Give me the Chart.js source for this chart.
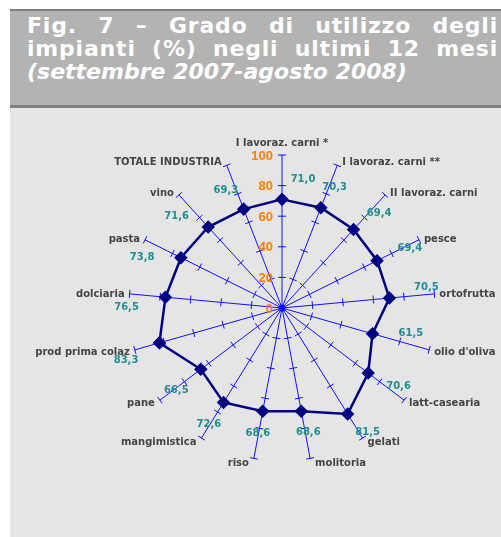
<!DOCTYPE html>
<html>
<head>
<meta charset="utf-8">
<script src="https://cdn.jsdelivr.net/npm/chart.js@4.4.0/dist/chart.umd.min.js"></script>
<style>
  body { margin: 0; background: #fff; width: 501px; height: 537px; overflow: hidden; position: relative; font-family: "DejaVu Sans", sans-serif; }
  #head { position: absolute; left: 10px; top: 9px; width: 491px; height: 94px; background: #b3b3b3;
          border-top: 2px solid #808080; border-bottom: 3px solid #7f7f7f; }
  #head div { color: #fff; font-weight: bold; font-size: 22px; line-height: 23px; margin: 0 3px 0 17px;
              letter-spacing: 0.8px; text-align: justify; text-align-last: justify; }
  #head div.sub { font-style: italic; letter-spacing: 0; text-align-last: left; }
  #head .first { margin-top: 3px; }
  #panel { position: absolute; left: 10px; top: 108px; width: 491px; height: 429px; background: #e5e5e5; }
  canvas { position: absolute; left: 0; top: 0; }
</style>
</head>
<body>
<div id="head">
  <div class="first">Fig. 7 – Grado di utilizzo degli</div>
  <div>impianti (%) negli ultimi 12 mesi</div>
  <div class="sub">(settembre 2007-agosto 2008)</div>
</div>
<div id="panel"></div>
<canvas id="chart" width="501" height="537"></canvas>
<script>
const categories = ['I lavoraz. carni *', 'I lavoraz. carni **', 'II lavoraz. carni', 'pesce', 'ortofrutta',
  "olio d'oliva", 'latt-casearia', 'gelati', 'molitoria', 'riso', 'mangimistica', 'pane',
  'prod prima colaz', 'dolciaria', 'pasta', 'vino', 'TOTALE INDUSTRIA'];
const utilizzo = [71.0, 70.3, 69.4, 69.4, 70.5, 61.5, 70.6, 81.5, 68.6, 68.6, 72.6, 66.5, 83.3, 76.5, 73.8, 71.6, 69.3];
const tickValues = [0, 20, 40, 60, 80, 100];
const tickLabels = ['0', '20', '40', '60', '80', '100'];

const spokeColor = '#1010ff';

// tick marks across the spokes, orange axis numbers, category and value labels
const spokeDecor = {
  id: 'spokeDecor',
  beforeDatasetsDraw(chart) {
    const r = chart.scales.r;
    const ctx = chart.ctx;
    ctx.save();
    ctx.strokeStyle = spokeColor;
    ctx.lineWidth = 1;
    categories.forEach((c, i) => {
      const a = r.getIndexAngle(i) - Math.PI / 2;
      const px = -Math.sin(a), py = Math.cos(a);
      tickValues.forEach(v => {
        if (v === 0) return;
        const p = r.getPointPositionForValue(i, v);
        ctx.beginPath();
        ctx.moveTo(p.x - px * 4, p.y - py * 4);
        ctx.lineTo(p.x + px * 4, p.y + py * 4);
        ctx.stroke();
      });
    });
    ctx.fillStyle = spokeColor;
    ctx.beginPath();
    ctx.arc(r.xCenter, r.yCenter, 3.5, 0, Math.PI * 2);
    ctx.fill();

    // category names at the spoke ends
    ctx.fillStyle = '#444';
    ctx.font = 'bold 10px "DejaVu Sans"';
    ctx.textBaseline = 'middle';
    categories.forEach((c, i) => {
      const a = r.getIndexAngle(i);
      const end = r.getPointPosition(i, r.drawingArea);
      const s = Math.sin(a), co = Math.cos(a);
      if (Math.abs(s) < 0.05) {
        ctx.textAlign = 'center';
        ctx.fillText(c, end.x, end.y - 12);
      } else {
        ctx.textAlign = s > 0 ? 'left' : 'right';
        ctx.fillText(c, end.x + (s > 0 ? 5 : -5), end.y + 1 - 4 * co);
      }
    });

    ctx.fillStyle = '#ff8000';
    ctx.font = 'bold 13px "Liberation Sans"';
    ctx.textAlign = 'right';
    tickValues.forEach((v, k) => {
      const p = r.getPointPositionForValue(0, v);
      ctx.fillText(tickLabels[k], p.x - 9, p.y + 1);
    });
    ctx.restore();
  },
  afterDatasetsDraw(chart) {
    const r = chart.scales.r;
    const ctx = chart.ctx;
    ctx.save();
    ctx.fillStyle = '#1f8f8f';
    ctx.font = 'bold 10px "DejaVu Sans"';
    ctx.textAlign = 'center';
    ctx.textBaseline = 'middle';
    utilizzo.forEach((v, i) => {
      const p = r.getPointPositionForValue(i, v);
      const a = r.getIndexAngle(i) - Math.PI / 2;
      const ux = Math.cos(a), uy = Math.sin(a);
      // labels on the sides sit a little counter-clockwise of the spoke
      const k = ux < 0 ? 12 * -ux : 9 * Math.max(0, (ux - 0.85) / 0.15);
      let x = p.x + ux * 38 + uy * k;
      let y = p.y + uy * 22 - ux * k;
      if (i === 0) { x = p.x + 21; y = p.y - 20; } // keep clear of the axis numbers
      ctx.fillText(v.toFixed(1).replace('.', ','), x, y);
    });
    ctx.restore();
  }
};

new Chart(document.getElementById('chart'), {
  type: 'radar',
  data: {
    labels: categories,
    datasets: [{
      data: utilizzo,
      borderColor: '#000080',
      borderWidth: 2.5,
      pointStyle: 'rectRot',
      pointRadius: 5,
      pointBackgroundColor: '#000080',
      pointBorderColor: '#000080',
      fill: false,
      tension: 0
    }]
  },
  options: {
    responsive: false,
    animation: false,
    layout: { padding: { left: 129, right: 66, top: 155, bottom: 76 } },
    plugins: { legend: { display: false }, tooltip: { enabled: false } },
    scales: {
      r: {
        min: 0,
        max: 100,
        ticks: { display: false, stepSize: 20 },
        grid: { display: false },
        angleLines: { color: spokeColor, lineWidth: 1 },
        pointLabels: { display: false }
      }
    }
  },
  plugins: [spokeDecor]
});
</script>
</body>
</html>
